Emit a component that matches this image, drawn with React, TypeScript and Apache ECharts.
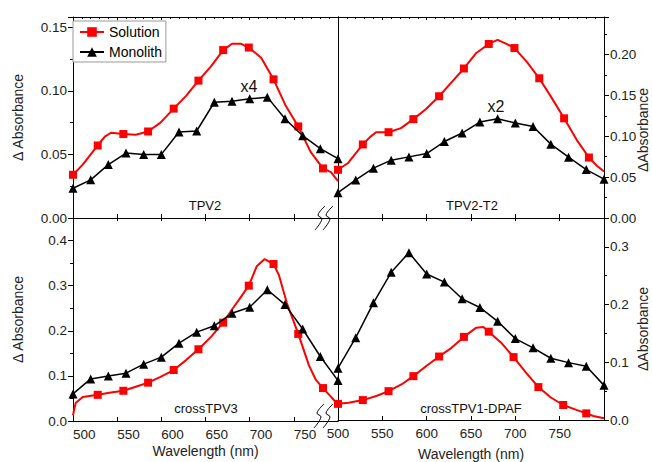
import React, { useEffect, useRef } from 'react';
import * as echarts from 'echarts';

// Wavelength grid of the Monolith measurements (nm)
const monoX = [500, 520, 540, 560, 580, 600, 620, 640, 660, 680, 700, 720, 740, 760, 780, 800];

// TPV2 (top-left)
const tpv2Mono = [0.0234, 0.030, 0.042, 0.051, 0.050, 0.050, 0.0676, 0.0684, 0.091, 0.0918, 0.0937, 0.095, 0.078, 0.0647, 0.0545, 0.0466];
const tpv2SolX = [500, 511, 528, 536, 543, 557, 571, 585, 599, 614, 628, 642, 656, 670, 680, 690, 699, 713, 727, 741, 755, 769, 783, 792, 800];
const tpv2SolY = [0.034, 0.042, 0.057, 0.064, 0.067, 0.066, 0.0655, 0.068, 0.075, 0.086, 0.096, 0.108, 0.119, 0.132, 0.137, 0.137, 0.134, 0.126, 0.109, 0.088, 0.072, 0.052, 0.039, 0.036, 0.029];
const tpv2Marks = [500, 528, 557, 585, 614, 642, 670, 699, 727, 755, 783];

// TPV2-T2 (top-right)
const tpv2t2Mono = [0.031, 0.0466, 0.061, 0.0708, 0.0748, 0.0789, 0.0936, 0.104, 0.1174, 0.1215, 0.1162, 0.112, 0.0904, 0.0745, 0.0593, 0.0475];
const tpv2t2SolX = [500, 511, 528, 536, 543, 557, 571, 585, 599, 614, 628, 642, 656, 670, 680, 690, 699, 713, 727, 741, 755, 769, 783, 792, 800];
const tpv2t2SolY = [0.059, 0.067, 0.090, 0.099, 0.105, 0.105, 0.110, 0.121, 0.133, 0.149, 0.166, 0.183, 0.202, 0.213, 0.218, 0.213, 0.208, 0.191, 0.171, 0.147, 0.122, 0.096, 0.074, 0.064, 0.057];
const tpv2t2Marks = [500, 528, 557, 585, 614, 642, 670, 699, 727, 755, 783];

// crossTPV3 (bottom-left)
const ctpv3Mono = [0.060, 0.0933, 0.100, 0.106, 0.126, 0.1415, 0.1726, 0.197, 0.211, 0.239, 0.252, 0.291, 0.258, 0.204, 0.143, 0.0896];
const ctpv3SolX = [500, 503, 511, 528, 543, 557, 571, 585, 599, 614, 628, 642, 656, 670, 681, 688, 699, 708, 717, 727, 733, 742, 755, 767, 775, 783, 792, 800];
const ctpv3SolY = [0.013, 0.040, 0.053, 0.058, 0.063, 0.067, 0.076, 0.085, 0.098, 0.113, 0.135, 0.159, 0.186, 0.218, 0.250, 0.269, 0.300, 0.343, 0.359, 0.348, 0.324, 0.262, 0.193, 0.124, 0.091, 0.073, 0.054, 0.036];
const ctpv3Marks = [528, 557, 585, 614, 642, 670, 699, 727, 755, 783];

// crossTPV1-DPAF (bottom-right)
const ctpv1Mono = [0.0897, 0.1426, 0.203, 0.256, 0.290, 0.253, 0.239, 0.210, 0.195, 0.171, 0.141, 0.125, 0.107, 0.0994, 0.093, 0.060];
const ctpv1SolX = [500, 512, 528, 544, 557, 572, 585, 600, 614, 628, 642, 656, 664, 670, 684, 698, 712, 726, 740, 754, 768, 780, 788, 800];
const ctpv1SolY = [0.028, 0.030, 0.0345, 0.042, 0.050, 0.062, 0.076, 0.094, 0.110, 0.125, 0.144, 0.160, 0.161, 0.153, 0.134, 0.109, 0.082, 0.057, 0.039, 0.026, 0.018, 0.0115, 0.007, 0.003];
const ctpv1Marks = [500, 528, 557, 585, 614, 642, 670, 698, 726, 754, 780];

const panelNames = ['TPV2', 'TPV2-T2', 'crossTPV3', 'crossTPV1-DPAF'];
const xTicks = { min: 500, max: 800, interval: 50 };

const FONT = '"Liberation Sans", Arial, Helvetica, sans-serif';

export default function App() {
  const ref = useRef<HTMLDivElement>(null);

  useEffect(() => {
    if (!ref.current) return;
    const chart = echarts.init(ref.current, undefined, { renderer: 'svg' });

    const L = 73, M = 338, R = 604, T = 17, MID = 218, B = 421;
    const panels = [
      { grid: { left: L, top: T, width: M - L, height: MID - T }, side: 'left', yMax: 0.158, yInt: 0.05, dec: 2, solX: tpv2SolX, solY: tpv2SolY, marks: tpv2Marks, mono: tpv2Mono, bottom: false },
      { grid: { left: M, top: T, width: R - M, height: MID - T }, side: 'right', yMax: 0.246, yInt: 0.05, dec: 2, solX: tpv2t2SolX, solY: tpv2t2SolY, marks: tpv2t2Marks, mono: tpv2t2Mono, bottom: false },
      { grid: { left: L, top: MID, width: M - L, height: B - MID }, side: 'left', yMax: 0.45, yInt: 0.1, dec: 1, solX: ctpv3SolX, solY: ctpv3SolY, marks: ctpv3Marks, mono: ctpv3Mono, bottom: true },
      { grid: { left: M, top: MID, width: R - M, height: B - MID }, side: 'right', yMax: 0.35, yInt: 0.1, dec: 1, solX: ctpv1SolX, solY: ctpv1SolY, marks: ctpv1Marks, mono: ctpv1Mono, bottom: true },
    ];

    const axisLine = { show: true, onZero: false, lineStyle: { color: '#000', width: 1 } };
    const grids: any[] = [];
    const xAxes: any[] = [];
    const yAxes: any[] = [];
    const series: any[] = [];

    panels.forEach((p, i) => {
      grids.push({ ...p.grid, containLabel: false });
      // bottom x axis
      xAxes.push({
        type: 'value', gridIndex: i, position: 'bottom', ...xTicks,
        axisLine,
        axisTick: { show: true, inside: true, length: 4, lineStyle: { color: '#000' } },
        splitLine: { show: false },
        axisLabel: p.bottom ? {
          show: true, fontSize: 13.5, color: '#222', margin: 6, showMaxLabel: false,
          align: p.side === 'left' ? 'left' : 'center',
        } : { show: false },
        name: p.bottom ? 'Wavelength (nm)' : '',
        nameLocation: 'middle', nameGap: p.side === 'left' ? 23 : 27,
        nameTextStyle: { fontSize: 14, color: '#222' },
      });
      // top x axis (frame)
      xAxes.push({
        type: 'value', gridIndex: i, position: 'top', ...xTicks,
        axisLine,
        axisTick: { show: true, inside: true, length: 3, lineStyle: { color: '#000' } },
        minorTick: { show: !p.bottom, splitNumber: 5, length: 2, lineStyle: { color: '#000' } },
        splitLine: { show: false },
        axisLabel: { show: false },
      });
      // main y axis
      yAxes.push({
        type: 'value', gridIndex: i, position: p.side, min: 0, max: p.yMax, interval: p.yInt,
        axisLine,
        axisTick: { show: true, inside: false, length: 5, lineStyle: { color: '#000' } },
        minorTick: { show: true, splitNumber: 2, length: 3, lineStyle: { color: '#000' } },
        splitLine: { show: false },
        axisLabel: {
          show: true, fontSize: 13.5, color: '#222', margin: 6, showMaxLabel: false,
          formatter: (v: number) => v.toFixed(p.dec),
        },
        name: p.side === 'left' ? '\u0394 Absorbance' : '',
        nameLocation: 'middle', nameGap: 48,
        nameTextStyle: { fontSize: 14, color: '#222' },
      });
      // opposite y axis (frame)
      yAxes.push({
        type: 'value', gridIndex: i, position: p.side === 'left' ? 'right' : 'left', min: 0, max: p.yMax,
        axisLine, axisTick: { show: false }, axisLabel: { show: false }, splitLine: { show: false },
      });

      series.push({
        type: 'line', name: 'Solution', xAxisIndex: i * 2, yAxisIndex: i * 2,
        data: p.solX.map((x, k) => ({ value: [x, p.solY[k]], symbol: p.marks.includes(x) ? 'rect' : 'none' })),
        symbol: 'rect', symbolSize: 8, showAllSymbol: true, clip: false,
        lineStyle: { color: '#ff0000', width: 2 }, itemStyle: { color: '#ff0000' }, z: 2,
      });
      series.push({
        type: 'line', name: 'Monolith', xAxisIndex: i * 2, yAxisIndex: i * 2,
        data: monoX.map((x, k) => [x, p.mono[k]]),
        symbol: 'triangle', symbolSize: 9, showAllSymbol: true, clip: false,
        lineStyle: { color: '#000', width: 1.5 }, itemStyle: { color: '#000' }, z: 3,
      });
    });

    const breakMark = (cx: number, cy: number) => ({
      type: 'polyline', silent: true, z: 10,
      shape: { points: [[cx + 5, cy - 12], [cx - 2, cy - 3], [cx + 2, cy + 1], [cx - 5, cy + 12]], smooth: 0.4 },
      style: { stroke: '#000', lineWidth: 1, fill: 'none' },
    });

    const txt = (x: number, y: number, text: string, size: number, rot = 0, fill = '#111') => ({
      type: 'text', x, y, rotation: rot, silent: true, z: 10,
      style: { text, fontSize: size, fill, fontFamily: FONT, align: 'center', verticalAlign: 'middle' },
    });

    chart.setOption({
      animation: false,
      backgroundColor: '#fff',
      textStyle: { fontFamily: FONT },
      grid: grids,
      xAxis: xAxes,
      yAxis: yAxes,
      series,
      legend: {
        data: ['Solution', 'Monolith'], orient: 'vertical', left: 73, top: 21,
        itemWidth: 24, itemHeight: 12, itemGap: 6,
        padding: [4, 4, 3, 6],
        borderColor: '#999', borderWidth: 1, backgroundColor: '#fff',
        textStyle: { fontSize: 14, color: '#000', lineHeight: 14 },
      },
      graphic: [
        breakMark(320, 218), breakMark(328, 218),
        breakMark(319, 416), breakMark(328, 416),
        txt(205, 205, panelNames[0], 13),
        txt(472, 205, panelNames[1], 13),
        txt(206, 408, panelNames[2], 13),
        txt(471, 408, panelNames[3], 13),
        txt(249, 86, 'x4', 16),
        txt(496, 106, 'x2', 16),
        txt(643, 130, '\u0394Absorbance', 14, Math.PI / 2, '#222'),
        txt(643, 329, '\u0394Absorbance', 14, Math.PI / 2, '#222'),
      ],
    });

    return () => chart.dispose();
  }, []);

  return <div ref={ref} style={{ position: 'fixed', left: 0, top: 0, width: 652, height: 462 }} />;
}
